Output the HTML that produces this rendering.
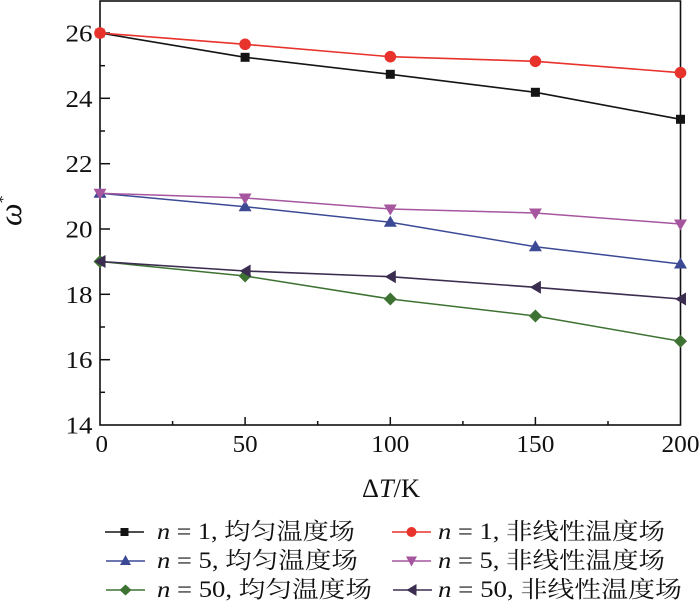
<!DOCTYPE html>
<html><head><meta charset="utf-8"><style>
html,body{margin:0;padding:0;background:#fff;}
svg{display:block;}
text{font-family:"Liberation Serif","Noto Serif CJK SC",serif;fill:#111;}
</style></head><body>
<svg width="700" height="607" viewBox="0 0 700 607" xmlns="http://www.w3.org/2000/svg">
<!-- frame -->
<rect x="100" y="1" width="580.5" height="424" fill="none" stroke="#111" stroke-width="1.6"/>
<!-- y ticks -->
<g stroke="#111" stroke-width="1.5">
<line x1="100" y1="33" x2="110" y2="33"/>
<line x1="100" y1="98.3" x2="110" y2="98.3"/>
<line x1="100" y1="163.7" x2="110" y2="163.7"/>
<line x1="100" y1="229" x2="110" y2="229"/>
<line x1="100" y1="294.3" x2="110" y2="294.3"/>
<line x1="100" y1="359.7" x2="110" y2="359.7"/>
<line x1="100" y1="65.7" x2="105" y2="65.7"/>
<line x1="100" y1="131" x2="105" y2="131"/>
<line x1="100" y1="196.3" x2="105" y2="196.3"/>
<line x1="100" y1="261.7" x2="105" y2="261.7"/>
<line x1="100" y1="327" x2="105" y2="327"/>
<line x1="100" y1="392.3" x2="105" y2="392.3"/>
<!-- x ticks -->
<line x1="245.1" y1="425" x2="245.1" y2="417"/>
<line x1="390.3" y1="425" x2="390.3" y2="417"/>
<line x1="535.4" y1="425" x2="535.4" y2="417"/>
<line x1="172.6" y1="425" x2="172.6" y2="421"/>
<line x1="317.7" y1="425" x2="317.7" y2="421"/>
<line x1="462.9" y1="425" x2="462.9" y2="421"/>
<line x1="608" y1="425" x2="608" y2="421"/>
</g>
<!-- y labels -->
<g font-size="24">
<text x="65.5" y="41.5" textLength="27" lengthAdjust="spacingAndGlyphs">26</text>
<text x="65.5" y="106.8" textLength="27" lengthAdjust="spacingAndGlyphs">24</text>
<text x="65.5" y="172.2" textLength="27" lengthAdjust="spacingAndGlyphs">22</text>
<text x="65.5" y="237.5" textLength="27" lengthAdjust="spacingAndGlyphs">20</text>
<text x="65.5" y="302.8" textLength="27" lengthAdjust="spacingAndGlyphs">18</text>
<text x="65.5" y="368.2" textLength="27" lengthAdjust="spacingAndGlyphs">16</text>
<text x="65.5" y="433.5" textLength="27" lengthAdjust="spacingAndGlyphs">14</text>
</g>
<!-- x labels -->
<g font-size="24">
<text x="95.5" y="452" textLength="12.5" lengthAdjust="spacingAndGlyphs">0</text>
<text x="232.6" y="452" textLength="25" lengthAdjust="spacingAndGlyphs">50</text>
<text x="371.3" y="452" textLength="38" lengthAdjust="spacingAndGlyphs">100</text>
<text x="516.4" y="452" textLength="38" lengthAdjust="spacingAndGlyphs">150</text>
<text x="661.5" y="452" textLength="38" lengthAdjust="spacingAndGlyphs">200</text>
</g>
<!-- axis titles -->
<text x="362" y="497" font-size="26" textLength="58" lengthAdjust="spacingAndGlyphs">Δ<tspan font-style="italic">T</tspan>/K</text>
<text transform="translate(21,226) rotate(-90)" font-size="32" font-style="italic">ω<tspan font-size="16" font-style="normal" dy="-13">*</tspan></text>

<!-- series -->
<polyline fill="none" stroke="#141414" stroke-width="1.6" points="100,33 245.1,57.3 390.3,74.3 535.4,92.3 680.5,119.3"/>
<g fill="#141414">
<rect x="95.5" y="28.5" width="9" height="9"/>
<rect x="240.6" y="52.8" width="9" height="9"/>
<rect x="385.8" y="69.8" width="9" height="9"/>
<rect x="530.9" y="87.8" width="9" height="9"/>
<rect x="676" y="114.8" width="9" height="9"/>
</g>
<polyline fill="none" stroke="#e8322c" stroke-width="1.6" points="100,33 245.1,44.3 390.3,56.7 535.4,61.3 680.5,72.7"/>
<g fill="#e8322c">
<circle cx="100" cy="33" r="5.8"/>
<circle cx="245.1" cy="44.3" r="5.8"/>
<circle cx="390.3" cy="56.7" r="5.8"/>
<circle cx="535.4" cy="61.3" r="5.8"/>
<circle cx="680.5" cy="72.7" r="5.8"/>
</g>
<polyline fill="none" stroke="#3c4a96" stroke-width="1.5" points="100,193.3 245.1,206.7 390.3,222.3 535.4,246.7 680.5,264"/>
<g fill="#3c4a96">
<polygon points="100,186.8 106.5,197.8 93.5,197.8"/>
<polygon points="245.1,200.2 251.6,211.2 238.6,211.2"/>
<polygon points="390.3,215.8 396.8,226.8 383.8,226.8"/>
<polygon points="535.4,240.2 541.9,251.2 528.9,251.2"/>
<polygon points="680.5,257.5 687,268.5 674,268.5"/>
</g>
<polyline fill="none" stroke="#a6569e" stroke-width="1.5" points="100,193.3 245.1,198 390.3,209 535.4,213 680.5,224"/>
<g fill="#a6569e">
<polygon points="93.5,188.8 106.5,188.8 100,199.8"/>
<polygon points="238.6,193.5 251.6,193.5 245.1,204.5"/>
<polygon points="383.8,204.5 396.8,204.5 390.3,215.5"/>
<polygon points="528.9,208.5 541.9,208.5 535.4,219.5"/>
<polygon points="674,219.5 687,219.5 680.5,230.5"/>
</g>
<polyline fill="none" stroke="#3e7233" stroke-width="1.5" points="100,261.5 245.1,276 390.3,299 535.4,316 680.5,341.3"/>
<g fill="#3e7233">
<polygon points="100,255 106.5,261.5 100,268 93.5,261.5"/>
<polygon points="245.1,269.5 251.6,276 245.1,282.5 238.6,276"/>
<polygon points="390.3,292.5 396.8,299 390.3,305.5 383.8,299"/>
<polygon points="535.4,309.5 541.9,316 535.4,322.5 528.9,316"/>
<polygon points="680.5,334.8 687,341.3 680.5,347.8 674,341.3"/>
</g>
<polyline fill="none" stroke="#3a2d4f" stroke-width="1.6" points="100,261.5 245.1,271 390.3,276.7 535.4,287.3 680.5,299"/>
<g fill="#3a2d4f">
<polygon points="94.5,261.5 105.5,255 105.5,268"/>
<polygon points="239.6,271 250.6,264.5 250.6,277.5"/>
<polygon points="384.8,276.7 395.8,270.2 395.8,283.2"/>
<polygon points="529.9,287.3 540.9,280.8 540.9,293.8"/>
<polygon points="675,299 686,292.5 686,305.5"/>
</g>

<!-- legend -->
<g stroke-width="1.6">
<line x1="105" y1="532" x2="144" y2="532" stroke="#141414"/>
<line x1="106" y1="561" x2="145" y2="561" stroke="#3c4a96"/>
<line x1="106" y1="590" x2="145" y2="590" stroke="#3e7233"/>
<line x1="392" y1="532" x2="431" y2="532" stroke="#e8322c"/>
<line x1="392" y1="561" x2="431" y2="561" stroke="#a6569e"/>
<line x1="393" y1="590" x2="432" y2="590" stroke="#3a2d4f"/>
</g>
<rect x="120.5" y="528" width="8" height="8" fill="#141414"/>
<polygon points="125.5,555 131,565 120,565" fill="#3c4a96"/>
<polygon points="125.5,584.5 131.5,590 125.5,595.5 119.5,590" fill="#3e7233"/>
<circle cx="411.5" cy="532" r="5" fill="#e8322c"/>
<polygon points="406,556.5 417,556.5 411.5,566.5" fill="#a6569e"/>
<polygon points="406.5,590 416.5,584 416.5,596" fill="#3a2d4f"/>

<g font-size="23">
<text x="157" y="539" textLength="198" lengthAdjust="spacingAndGlyphs"><tspan font-style="italic">n</tspan> = 1, 均匀温度场</text>
<text x="157" y="568" textLength="201" lengthAdjust="spacingAndGlyphs"><tspan font-style="italic">n</tspan> = 5, 均匀温度场</text>
<text x="157" y="597" textLength="215" lengthAdjust="spacingAndGlyphs"><tspan font-style="italic">n</tspan> = 50, 均匀温度场</text>
<text x="438" y="539" textLength="227" lengthAdjust="spacingAndGlyphs"><tspan font-style="italic">n</tspan> = 1, 非线性温度场</text>
<text x="438" y="568" textLength="227" lengthAdjust="spacingAndGlyphs"><tspan font-style="italic">n</tspan> = 5, 非线性温度场</text>
<text x="438" y="597" textLength="244" lengthAdjust="spacingAndGlyphs"><tspan font-style="italic">n</tspan> = 50, 非线性温度场</text>
</g>
</svg>
</body></html>
